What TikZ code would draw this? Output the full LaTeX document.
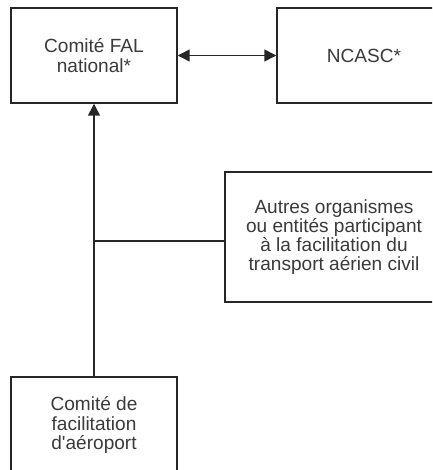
\documentclass[tikz,border=0pt]{standalone}
\usepackage{fontspec}
\setmainfont{Liberation Sans}[Ligatures=TeXOff]
\usetikzlibrary{arrows.meta}
\definecolor{txt}{HTML}{3A3A3A}
\definecolor{ln}{HTML}{262626}
\begin{document}
\begin{tikzpicture}[x=0.75pt,y=-0.75pt,
  box/.style={draw=ln, line width=1.1pt, inner sep=0pt, align=center, text=txt,
    font=\fontsize{14.3}{14.4}\selectfont},
  conn/.style={draw=ln, line width=1.1pt},
  tip/.style={-{Triangle[length=9pt,width=9pt]}},
  dtip/.style={{Triangle[length=9pt,width=9pt]}-{Triangle[length=9pt,width=9pt]}}]
\useasboundingbox (0,0) rectangle (432,470);
\clip (0,0) rectangle (432,470);
\node[box, minimum width=124.5pt, minimum height=71.25pt] (fal) at (94,55.5) {Comité FAL\\national*};
\node[box, minimum width=130.5pt, minimum height=71.25pt] (ncasc) at (364,55.5) {NCASC*};
\node[box, minimum width=163.5pt, minimum height=97.5pt] (autres) at (334,237) {Autres organismes\\ou entités participant\\à la facilitation du\\transport aérien civil};
\node[box, minimum width=124.5pt, minimum height=72pt] (aero) at (94,425) {Comité de\\facilitation\\d'aéroport};
\draw[conn, dtip] (fal.east) -- (ncasc.west);
\draw[conn, tip] (aero.north) -- (fal.south);
\coordinate (j) at (94,241);
\draw[conn] (j) -- (autres.west |- j);
\end{tikzpicture}
\end{document}
